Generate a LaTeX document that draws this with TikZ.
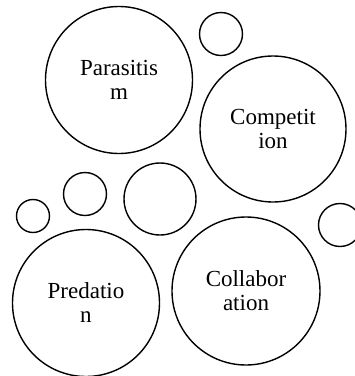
\documentclass[tikz,border=0pt]{standalone}
\usepackage{fontspec}
\setmainfont{Liberation Serif}
\begin{document}
\begin{tikzpicture}[
    x=1pt, y=-1pt,
    bubble/.style={circle, draw, line width=1.4pt, inner sep=0pt, align=center, font=\fontsize{23}{24}\selectfont},
    dot/.style={circle, draw, line width=1.4pt, inner sep=0pt}
]
    \useasboundingbox (0,0) rectangle (355,376);
    \node[bubble, minimum size=147pt] (para) at (119,80) {Parasitis\\m};
    \node[bubble, minimum size=146pt] (comp) at (273,129) {Competit\\ion};
    \node[bubble, minimum size=147pt] (pred) at (86,303) {Predatio\\n};
    \node[bubble, minimum size=148pt] (coll) at (246,291) {Collabor\\ation};
    \node[dot, minimum size=43pt] (topdot) at (221,34) {};
    \node[dot, minimum size=33pt] (leftdot) at (33,216) {};
    \node[dot, minimum size=43pt] (middot) at (85,194) {};
    \node[dot, minimum size=72pt] (bigdot) at (160,199) {};
    \node[dot, minimum size=43pt] (rightdot) at (340,225) {};
\end{tikzpicture}
\end{document}
